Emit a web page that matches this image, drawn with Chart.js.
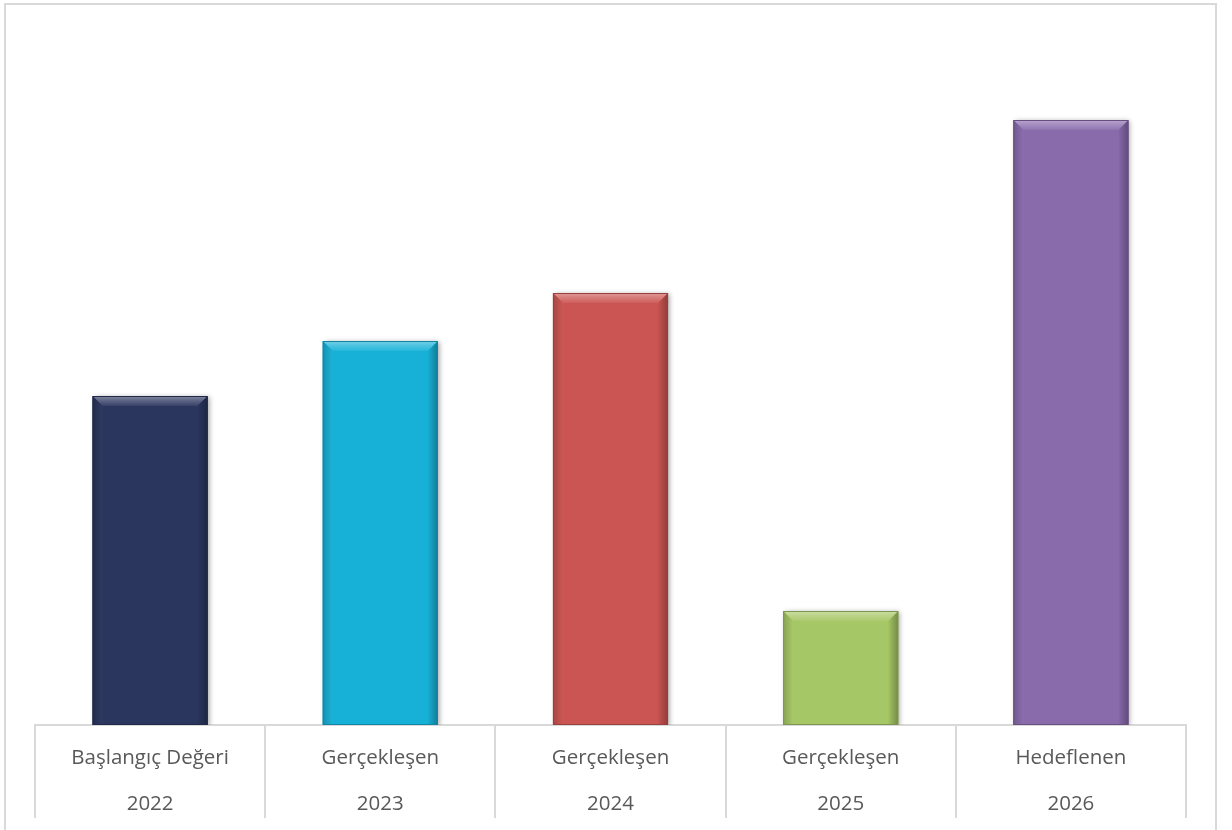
<!DOCTYPE html>
<html>
<head>
<meta charset="utf-8">
<script src="https://cdn.jsdelivr.net/npm/chart.js@4"></script>
<style>
  html, body { margin: 0; padding: 0; background: #fff; }
  #wrap { width: 1232px; height: 830px; position: relative; }
</style>
</head>
<body>
<div id="wrap"><canvas id="myGraph" width="1232" height="830"></canvas></div>
<script>
// data (no value axis shown, so relative units)
const categoryNames = ["Başlangıç Değeri", "Gerçekleşen", "Gerçekleşen", "Gerçekleşen", "Hedeflenen"];
const years = ["2022", "2023", "2024", "2025", "2026"];
const values = [329, 384, 432, 114, 605];
const barColors = ["#2b365f", "#17b1d7", "#cb5552", "#a6c765", "#896bac"];
const yMax = 665;

const gridGray = "#d9d9d9";

// mix a hex colour with white (amt > 0) or black (amt < 0)
const shade = (hex, amt) => {
  const n = parseInt(hex.slice(1), 16);
  let r = (n >> 16) & 255, g = (n >> 8) & 255, b = n & 255;
  const t = amt < 0 ? 0 : 255, p = Math.abs(amt);
  r = Math.round(r + (t - r) * p);
  g = Math.round(g + (t - g) * p);
  b = Math.round(b + (t - b) * p);
  return `rgb(${r},${g},${b})`;
};

// outer frame + category separators below the axis
const framePlugin = {
  id: "frame",
  beforeDraw(chart) {
    const ctx = chart.ctx;
    ctx.save();
    ctx.strokeStyle = gridGray;
    ctx.lineWidth = 2;
    ctx.strokeRect(5, 4, 1211, 900);
    ctx.restore();
  },
  afterDraw(chart) {
    const ctx = chart.ctx, area = chart.chartArea, xs = chart.scales.x;
    const lines = [area.left];
    for (let i = 0; i < values.length - 1; i++) {
      lines.push((xs.getPixelForTick(i) + xs.getPixelForTick(i + 1)) / 2);
    }
    lines.push(area.right);
    ctx.save();
    ctx.strokeStyle = gridGray;
    ctx.lineWidth = 2;
    lines.forEach(x => {
      ctx.beginPath();
      ctx.moveTo(Math.round(x), area.bottom);
      ctx.lineTo(Math.round(x), 818);
      ctx.stroke();
    });
    ctx.restore();
  }
};

// soft shadow under the bars and a bevelled top/sides on each bar
const bevelPlugin = {
  id: "bevel",
  beforeDatasetsDraw(chart) {
    const ctx = chart.ctx;
    ctx.save();
    ctx.shadowColor = "rgba(0,0,0,0.35)";
    ctx.shadowBlur = 5;
    ctx.shadowOffsetX = 2;
    ctx.shadowOffsetY = 1;
  },
  afterDatasetsDraw(chart) {
    const ctx = chart.ctx;
    ctx.restore();
    const meta = chart.getDatasetMeta(0);
    meta.data.forEach((bar, i) => {
      const c = barColors[i];
      const w = bar.width, l = bar.x - w / 2, r = bar.x + w / 2, t = bar.y, bot = bar.base;
      const b = 10;
      ctx.save();
      // top face
      let g = ctx.createLinearGradient(0, t, 0, t + b);
      g.addColorStop(0, shade(c, 0.4));
      g.addColorStop(0.5, shade(c, 0.22));
      g.addColorStop(1, shade(c, 0.06));
      ctx.fillStyle = g;
      ctx.beginPath();
      ctx.moveTo(l, t); ctx.lineTo(r, t); ctx.lineTo(r - b, t + b); ctx.lineTo(l + b, t + b);
      ctx.closePath(); ctx.fill();
      // left face
      g = ctx.createLinearGradient(l, 0, l + b, 0);
      g.addColorStop(0, shade(c, -0.18));
      g.addColorStop(1, shade(c, 0.02));
      ctx.fillStyle = g;
      ctx.beginPath();
      ctx.moveTo(l, t); ctx.lineTo(l + b, t + b); ctx.lineTo(l + b, bot); ctx.lineTo(l, bot);
      ctx.closePath(); ctx.fill();
      // right face
      g = ctx.createLinearGradient(r - b, 0, r, 0);
      g.addColorStop(0, shade(c, -0.02));
      g.addColorStop(1, shade(c, -0.3));
      ctx.fillStyle = g;
      ctx.beginPath();
      ctx.moveTo(r, t); ctx.lineTo(r - b, t + b); ctx.lineTo(r - b, bot); ctx.lineTo(r, bot);
      ctx.closePath(); ctx.fill();
      // thin edge
      ctx.strokeStyle = shade(c, -0.25);
      ctx.lineWidth = 1;
      ctx.strokeRect(l + 0.5, t + 0.5, w - 1, bot - t - 1);
      ctx.restore();
    });
  }
};

const labels = categoryNames.map((n, i) => [n, years[i]]);

new Chart(document.getElementById("myGraph"), {
  type: "bar",
  data: {
    labels: labels,
    datasets: [{
      data: values,
      backgroundColor: barColors,
      borderWidth: 0,
      barPercentage: 0.5,
      categoryPercentage: 1.0
    }]
  },
  options: {
    responsive: false,
    animation: false,
    devicePixelRatio: 1,
    layout: { padding: { top: 60, left: 35, right: 46, bottom: 0 } },
    plugins: { legend: { display: false }, tooltip: { enabled: false } },
    scales: {
      y: { display: false, min: 0, max: yMax },
      x: {
        offset: true,
        border: { display: true, color: gridGray, width: 2 },
        grid: { display: false, drawTicks: false },
        ticks: {
          color: "#595959",
          padding: 10,
          font: { family: "'Open Sans', Lato, sans-serif", size: 20.5, lineHeight: "46px" }
        },
        afterFit: s => { s.height = 105; }
      }
    }
  },
  plugins: [framePlugin, bevelPlugin]
});
</script>
</body>
</html>
